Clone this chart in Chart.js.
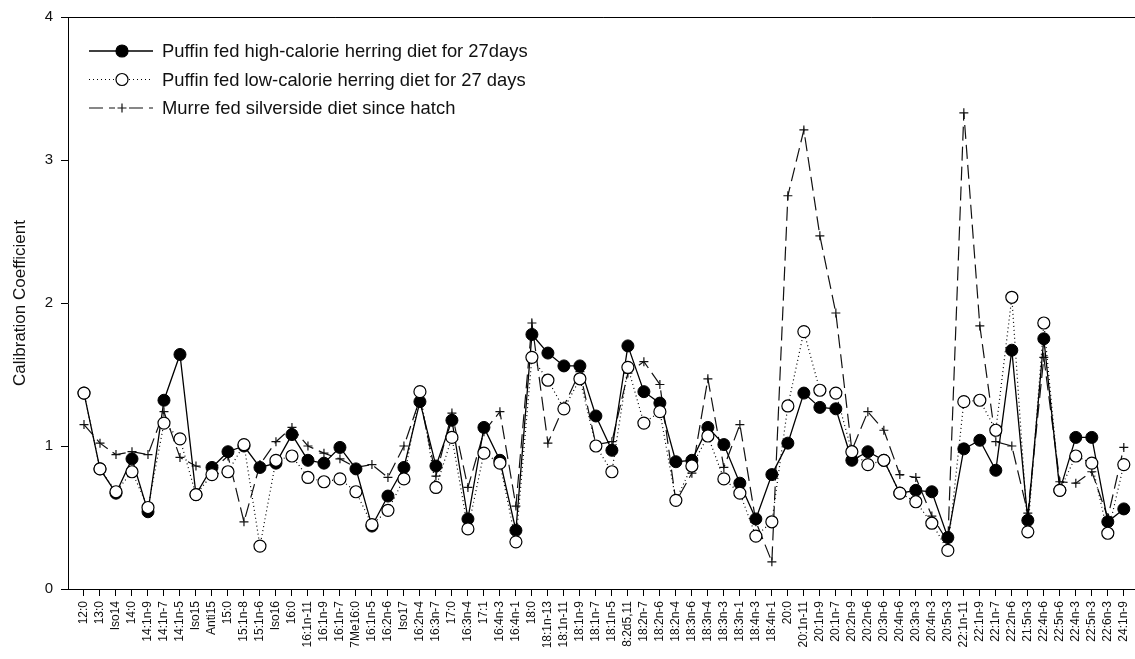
<!DOCTYPE html>
<html>
<head>
<meta charset="utf-8">
<script src="https://cdn.jsdelivr.net/npm/chart.js@4"></script>
<style>
  html, body { margin: 0; padding: 0; background: #fff; overflow: hidden; width: 1135px; height: 659px; }
  #wrap { position: absolute; left: 0; top: 0; width: 1147px; height: 659px; }
</style>
</head>
<body>
<div id="wrap"><canvas id="myChart" width="1147" height="659"></canvas></div>
<script>
var categories = ["12:0", "13:0", "Iso14", "14:0", "14:1n-9", "14:1n-7", "14:1n-5", "Iso15", "Anti15", "15:0",
    "15:1n-8", "15:1n-6", "Iso16", "16:0", "16:1n-11", "16:1n-9", "16:1n-7", "7Me16:0", "16:1n-5", "16:2n-6",
    "Iso17", "16:2n-4", "16:3n-7", "17:0", "16:3n-4", "17:1", "16:4n-3", "16:4n-1", "18:0", "18:1n-13",
    "18:1n-11", "18:1n-9", "18:1n-7", "18:1n-5", "8:2d5,11", "18:2n-7", "18:2n-6", "18:2n-4", "18:3n-6", "18:3n-4",
    "18:3n-3", "18:3n-1", "18:4n-3", "18:4n-1", "20:0", "20:1n-11", "20:1n-9", "20:1n-7", "20:2n-9", "20:2n-6",
    "20:3n-6", "20:4n-6", "20:3n-3", "20:4n-3", "20:5n-3", "22:1n-11", "22:1n-9", "22:1n-7", "22:2n-6", "21:5n-3",
    "22:4n-6", "22:5n-6", "22:4n-3", "22:5n-3", "22:6n-3", "24:1n-9"];

var puffinHigh = [1.37, 0.84, 0.67, 0.91, 0.54, 1.32, 1.64, 0.66, 0.85, 0.96,
    1.00, 0.85, 0.88, 1.08, 0.90, 0.88, 0.99, 0.84, 0.44, 0.65,
    0.85, 1.31, 0.86, 1.18, 0.49, 1.13, 0.90, 0.41, 1.78, 1.65,
    1.56, 1.56, 1.21, 0.97, 1.70, 1.38, 1.30, 0.89, 0.90, 1.13,
    1.01, 0.74, 0.49, 0.80, 1.02, 1.37, 1.27, 1.26, 0.90, 0.96,
    0.90, 0.67, 0.69, 0.68, 0.36, 0.98, 1.04, 0.83, 1.67, 0.48,
    1.75, 0.69, 1.06, 1.06, 0.47, 0.56];

var puffinLow = [1.37, 0.84, 0.68, 0.82, 0.57, 1.16, 1.05, 0.66, 0.80, 0.82,
    1.01, 0.30, 0.90, 0.93, 0.78, 0.75, 0.77, 0.68, 0.45, 0.55,
    0.77, 1.38, 0.71, 1.06, 0.42, 0.95, 0.88, 0.33, 1.62, 1.46,
    1.26, 1.47, 1.00, 0.82, 1.55, 1.16, 1.24, 0.62, 0.86, 1.07,
    0.77, 0.67, 0.37, 0.47, 1.28, 1.80, 1.39, 1.37, 0.96, 0.87,
    0.90, 0.67, 0.61, 0.46, 0.27, 1.31, 1.32, 1.11, 2.04, 0.40,
    1.86, 0.69, 0.93, 0.88, 0.39, 0.87];

var murre = [1.15, 1.02, 0.94, 0.96, 0.94, 1.24, 0.92, 0.86, 0.83, 0.93,
    0.47, 0.87, 1.03, 1.13, 1.00, 0.95, 0.91, 0.85, 0.87, 0.78,
    1.00, 1.33, 0.79, 1.23, 0.71, 1.10, 1.24, 0.58, 1.86, 1.02,
    1.28, 1.52, 1.01, 1.03, 1.51, 1.59, 1.43, 0.61, 0.81, 1.47,
    0.85, 1.15, 0.47, 0.19, 2.75, 3.21, 2.47, 1.93, 0.97, 1.24,
    1.11, 0.80, 0.78, 0.51, 0.33, 3.33, 1.84, 1.03, 1.00, 0.53,
    1.62, 0.75, 0.74, 0.82, 0.50, 0.99];

var yTicks = [0, 1, 2, 3, 4];

function toPoints(values) {
    return values.map(function(v, i) { return {x: i, y: v}; });
}

// legend drawn like the figure: line sample with the marker in the middle
var figureLegend = {
    id: 'figureLegend',
    afterDraw: function(chart) {
        var ctx = chart.ctx;
        var area = chart.chartArea;
        ctx.save();
        // top frame line
        ctx.strokeStyle = '#000';
        ctx.lineWidth = 1;
        ctx.beginPath();
        ctx.moveTo(area.left, area.top + 0.5);
        ctx.lineTo(area.right, area.top + 0.5);
        ctx.stroke();

        chart.data.datasets.forEach(function(ds, i) {
            var y = 51 + i * 28.5;
            var cx = 122;
            ctx.strokeStyle = ds.borderColor;
            ctx.lineWidth = ds.borderWidth;
            ctx.setLineDash(ds.borderDash || []);
            ctx.beginPath();
            ctx.moveTo(89, y);
            ctx.lineTo(153, y);
            ctx.stroke();
            ctx.setLineDash([]);
            ctx.lineWidth = 1.2;
            ctx.strokeStyle = ds.pointBorderColor;
            ctx.fillStyle = ds.pointBackgroundColor;
            if (ds.pointStyle === 'cross') {
                ctx.fillStyle = '#fff';
                ctx.fillRect(cx - 7, y - 5, 14, 10);
                ctx.beginPath();
                ctx.moveTo(cx - ds.pointRadius, y);
                ctx.lineTo(cx + ds.pointRadius, y);
                ctx.moveTo(cx, y - ds.pointRadius);
                ctx.lineTo(cx, y + ds.pointRadius);
                ctx.stroke();
            } else {
                ctx.beginPath();
                ctx.arc(cx, y, ds.pointRadius, 0, Math.PI * 2);
                ctx.fill();
                ctx.stroke();
            }
            ctx.fillStyle = '#111';
            ctx.font = '18.4px "Liberation Sans", Arial, sans-serif';
            ctx.textBaseline = 'middle';
            ctx.textAlign = 'left';
            ctx.fillText(ds.label, 162, y + 1);
        });
        ctx.restore();
    }
};

Chart.defaults.font.family = '"Liberation Sans", Arial, sans-serif';
Chart.defaults.color = '#111';

var ctx = document.getElementById("myChart");
var chart = new Chart(ctx, {
    type: 'line',
    data: {
        datasets: [{
            label: "Puffin fed high-calorie herring diet for 27days",
            data: toPoints(puffinHigh),
            borderColor: '#000',
            borderWidth: 1.3,
            pointStyle: 'circle',
            pointRadius: 6,
            pointBackgroundColor: '#000',
            pointBorderColor: '#000',
            pointBorderWidth: 1,
            order: 1
        }, {
            label: "Puffin fed low-calorie herring diet for 27 days",
            data: toPoints(puffinLow),
            borderColor: '#000',
            borderWidth: 1.2,
            borderDash: [1, 3],
            pointStyle: 'circle',
            pointRadius: 6,
            pointBackgroundColor: '#fff',
            pointBorderColor: '#000',
            pointBorderWidth: 1.2,
            order: 0
        }, {
            label: "Murre fed silverside diet since hatch",
            data: toPoints(murre),
            borderColor: '#111',
            borderWidth: 1.2,
            borderDash: [14, 6],
            pointStyle: 'cross',
            pointRadius: 4.5,
            pointBackgroundColor: '#111',
            pointBorderColor: '#111',
            pointBorderWidth: 1.2,
            order: 2
        }]
    },
    options: {
        responsive: false,
        animation: false,
        devicePixelRatio: 1,
        events: [],
        layout: { padding: { top: 17, left: 0, right: 0, bottom: 0 } },
        plugins: {
            legend: { display: false },
            tooltip: { enabled: false }
        },
        elements: { line: { tension: 0 } },
        scales: {
            x: {
                type: 'linear',
                min: -1,
                max: categories.length,
                afterBuildTicks: function(scale) {
                    scale.ticks = categories.map(function(c, i) { return {value: i}; });
                },
                afterFit: function(scale) {
                    scale.height = 70;
                    scale.paddingLeft = 0;
                    scale.paddingRight = 0;
                },
                ticks: {
                    autoSkip: false,
                    maxRotation: 90,
                    minRotation: 90,
                    padding: 5,
                    font: { size: 12 },
                    color: '#111',
                    callback: function(value) { return categories[value]; }
                },
                grid: { drawOnChartArea: false, drawTicks: true, tickLength: 7, color: '#000' },
                border: { color: '#000', width: 1 }
            },
            y: {
                min: 0,
                max: 4,
                afterBuildTicks: function(scale) {
                    scale.ticks = yTicks.map(function(v) { return {value: v}; });
                },
                afterFit: function(scale) {
                    scale.width = 68;
                },
                ticks: { font: { size: 15 }, padding: 8, color: '#111' },
                grid: { drawOnChartArea: false, drawTicks: true, tickLength: 7, color: '#000' },
                border: { color: '#000', width: 1 },
                title: {
                    display: true,
                    text: 'Calibration Coefficient',
                    font: { size: 17 },
                    color: '#111',
                    padding: { top: 10, bottom: 0 }
                }
            }
        }
    },
    plugins: [figureLegend]
});
</script>
</body>
</html>
